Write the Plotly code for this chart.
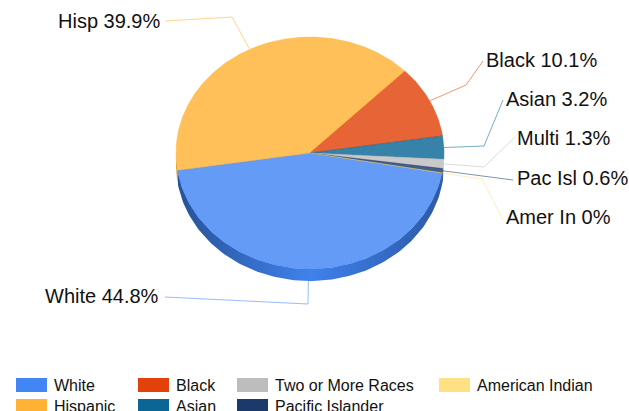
import math
import numpy as np
import plotly.graph_objects as go

categories = ["White", "Hispanic", "Black", "Asian", "Two or More Races", "Pacific Islander", "American Indian"]
short_labels = ["White 44.8%", "Hisp 39.9%", "Black 10.1%", "Asian 3.2%", "Multi 1.3%", "Pac Isl 0.6%", "Amer In 0%"]
values = [44.8, 39.9, 10.1, 3.2, 1.3, 0.6, 0.03]
colors = ["#4285f4", "#ffb234", "#e2420a", "#0a6795", "#bdbdbd", "#1b3a6b", "#ffe082"]

# layout (pixel space of the 629x411 page)
CX, CY, RX, RY, DEPTH, START = 310, 153, 134, 116, 12, 10
# per-slice leader elbows and label anchors, in page pixels
elbows = [[(308, 304), (165, 297)], [(232, 17), (165, 21)], [(466, 85), (483, 61)],
          [(484, 146), (503, 100)], [(484, 167), (515, 137)], [(513, 180)], [(482, 179), (503, 220)]]
label_pos = [(161, 296, "right"), (162, 21, "right"), (484, 60, "left"), (504, 99, "left"),
             (515, 138, "left"), (515, 178, "left"), (504, 217, "left")]
legend_pos = [(16, 378), (16, 399), (138, 378), (138, 399), (237, 378), (237, 399), (439, 378)]
LABEL_FONT, LEGEND_FONT = 20, 16
TEXT = "#111111"

def rgba(hex_color, a):
    r, g, b = (int(hex_color[i:i + 2], 16) for i in (1, 3, 5))
    return f"rgba({r},{g},{b},{a})"

def shade(hex_color, f):
    r, g, b = (int(int(hex_color[i:i + 2], 16) * f) for i in (1, 3, 5))
    return f"rgb({r},{g},{b})"

fig = go.Figure()
total = sum(values)
angle = START
spans = []
for v in values:
    sweep = v / total * 360
    spans.append((angle, angle + sweep))
    angle += sweep

# side wall: only the part of each slice facing the viewer
for (a0, a1), c, name in zip(spans, colors, categories):
    if a0 >= 360:
        lo, hi = a0 - 360, a1 - 360
    else:
        lo, hi = a0, min(a1, 180)
    hi = min(hi, 180)
    if hi <= lo:
        continue
    t = np.radians(np.linspace(lo, hi, 120))
    xs = CX + RX * np.cos(t)
    ys = CY + RY * np.sin(t)
    px = np.concatenate([xs, xs[::-1]])
    py = np.concatenate([ys, ys[::-1] + DEPTH])
    fig.add_trace(go.Scatter(
        x=px, y=py, mode="lines", fill="toself", line=dict(width=0), hoverinfo="skip", showlegend=False,
        fillgradient=dict(type="horizontal", colorscale=[[0, shade(c, 0.62)], [0.5, shade(c, 0.97)], [1, shade(c, 0.68)]]),
    ))

# top faces
for (a0, a1), c, name, v in zip(spans, colors, categories, values):
    t = np.radians(np.linspace(a0, a1, max(3, int((a1 - a0) * 2))))
    px = np.concatenate([[CX], CX + RX * np.cos(t), [CX]])
    py = np.concatenate([[CY], CY + RY * np.sin(t), [CY]])
    fig.add_trace(go.Scatter(
        x=px, y=py, mode="lines", fill="toself", fillcolor=rgba(c, 0.82),
        line=dict(width=0.5, color=rgba(c, 0.82)), name=name, showlegend=False,
        hovertemplate=f"{name}: {v}%<extra></extra>",
    ))

# leader lines and labels
annotations = []
for (a0, a1), c, elbow, lab, pos in zip(spans, colors, elbows, short_labels, label_pos):
    mid_deg = (a0 + a1) / 2
    mid = math.radians(mid_deg)
    sx, sy = CX + RX * math.cos(mid), CY + RY * math.sin(mid)
    if 0 < mid_deg < 180:
        sy += DEPTH
    fig.add_trace(go.Scatter(
        x=[sx] + [p[0] for p in elbow], y=[sy] + [p[1] for p in elbow], mode="lines",
        line=dict(color=rgba(c, 0.55), width=1), hoverinfo="skip", showlegend=False,
    ))
    annotations.append(dict(x=pos[0], y=pos[1], text=lab, showarrow=False, xanchor=pos[2], yanchor="middle",
                            xref="x", yref="y", font=dict(size=LABEL_FONT, color=TEXT)))

# legend
shapes = []
for name, c, (lx, ly) in zip(categories, colors, legend_pos):
    shapes.append(dict(type="rect", x0=lx, x1=lx + 31, y0=ly, y1=ly + 14, xref="x", yref="y",
                       fillcolor=c, line=dict(width=0)))
    annotations.append(dict(x=lx + 36, y=ly + 7, text=name, showarrow=False, xanchor="left", yanchor="middle",
                            xref="x", yref="y", font=dict(size=LEGEND_FONT, color=TEXT)))

fig.update_layout(
    width=629, height=411, margin=dict(l=0, r=0, t=0, b=0), autosize=False,
    paper_bgcolor="white", plot_bgcolor="white", showlegend=False,
    font=dict(family="Liberation Sans, Arial, sans-serif"),
    xaxis=dict(range=[0, 629], visible=False, fixedrange=True),
    yaxis=dict(range=[411, 0], visible=False, fixedrange=True),
    shapes=shapes, annotations=annotations,
)
fig.write_html("out.html", config={"displayModeBar": False},
               post_script="document.body.style.margin='0';document.documentElement.style.overflow='hidden';")
